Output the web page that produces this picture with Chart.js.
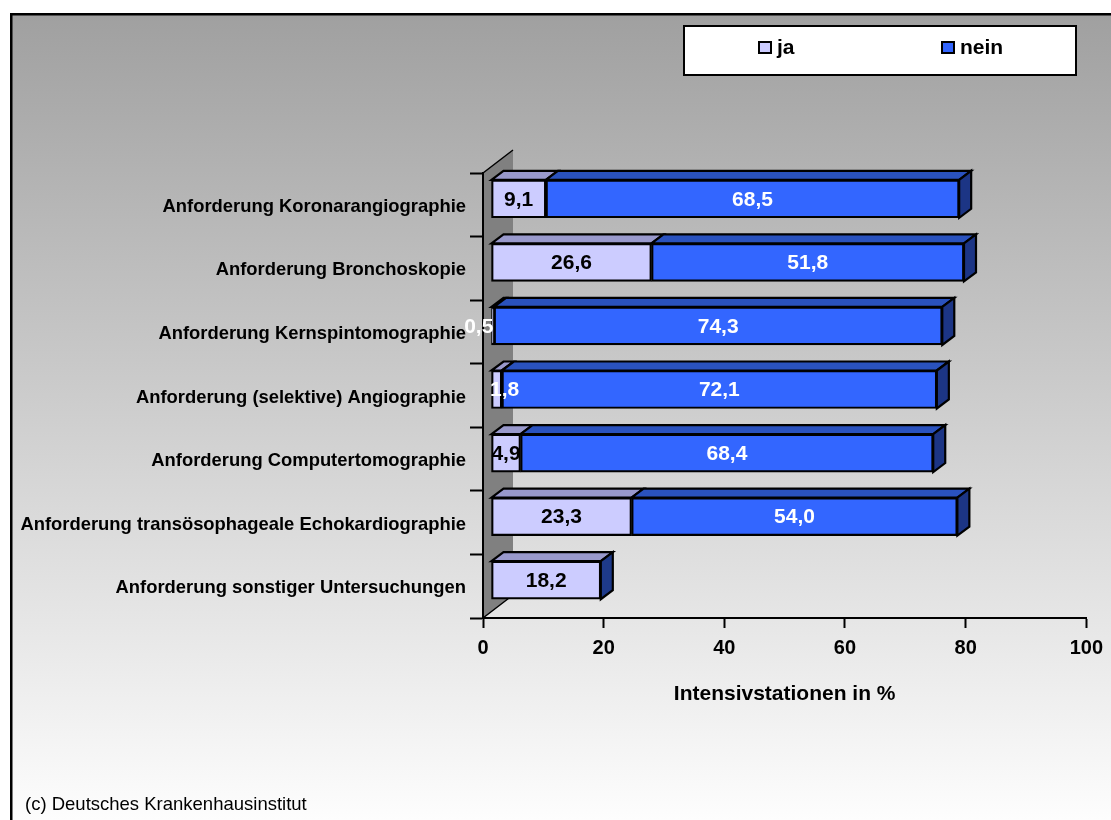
<!DOCTYPE html>
<html><head><meta charset="utf-8">
<script src="https://cdn.jsdelivr.net/npm/chart.js@4"></script>
<style>html,body{margin:0;padding:0;background:#fff}canvas{display:block}</style>
</head><body>
<canvas id="c" width="1111" height="820"></canvas>
<script>
// ---- data ----
const categories = [
  'Anforderung Koronarangiographie',
  'Anforderung Bronchoskopie',
  'Anforderung Kernspintomographie',
  'Anforderung (selektive) Angiographie',
  'Anforderung Computertomographie',
  'Anforderung transösophageale Echokardiographie',
  'Anforderung sonstiger Untersuchungen'
];
const jaValues   = [9.1, 26.6, 0.5, 1.8, 4.9, 23.3, 18.2];
const neinValues = [68.5, 51.8, 74.3, 72.1, 68.4, 54.0, null];
const seriesNames = ['ja', 'nein'];
const xTickValues = [0, 20, 40, 60, 80, 100];
const axisTitle = 'Intensivstationen in %';
const footerText = '(c) Deutsches Krankenhausinstitut';

// ---- styles ----
const FONT = '"Liberation Sans", Arial, Helvetica, sans-serif';
const jaLabelColors = ['#000', '#000', '#fff', '#fff', '#000', '#000', '#000'];
const jaLabelNudge = [0, 0, -14, 8, 0, 0, 0];
const seriesStyle = [
  {front: '#ccccff', top: '#9999cc', side: '#1e3a8a', label: null},
  {front: '#3366ff', top: '#2a52be', side: '#1c3585', label: '#fff'}
];
const SHIFT_X = 8, SHIFT_Y = 6;     // bar depth position
const BAR_DX = 12, BAR_DY = 9;      // bar depth
const WALL_DX = 30, WALL_DY = 23;   // wall depth

const fmt = v => v.toFixed(1).replace('.', ',');

const backgroundPlugin = {
  id: 'bgWall',
  beforeDraw(chart) {
    const ctx = chart.ctx, W = chart.width, H = chart.height;
    ctx.save();
    ctx.fillStyle = '#fff';
    ctx.fillRect(0, 0, W, H);
    const g = ctx.createLinearGradient(0, 14, 0, H);
    g.addColorStop(0, '#a0a0a0');
    g.addColorStop(1, '#fdfdfd');
    ctx.fillStyle = g;
    ctx.fillRect(11, 14, W, H);
    ctx.strokeStyle = '#000';
    ctx.lineWidth = 2.5;
    ctx.strokeRect(11.25, 14.25, W + 20, H + 20);
    // back wall
    const {left, top, bottom} = chart.chartArea;
    ctx.beginPath();
    ctx.moveTo(left, top);
    ctx.lineTo(left + WALL_DX, top - WALL_DY);
    ctx.lineTo(left + WALL_DX, bottom - WALL_DY);
    ctx.lineTo(left, bottom);
    ctx.closePath();
    ctx.fillStyle = '#808080';
    ctx.fill();
    ctx.beginPath();
    ctx.moveTo(left, top);
    ctx.lineTo(left + WALL_DX, top - WALL_DY);
    ctx.moveTo(left, bottom);
    ctx.lineTo(left + WALL_DX, bottom - WALL_DY);
    ctx.lineWidth = 1.5;
    ctx.strokeStyle = '#000';
    ctx.stroke();
    ctx.restore();
  }
};

const depthPlugin = {
  id: 'depth',
  beforeDatasetsDraw(chart) {
    chart.ctx.save();
    chart.ctx.translate(SHIFT_X, -SHIFT_Y);
  },
  afterDatasetsDraw(chart) {
    const ctx = chart.ctx;
    const metas = chart.data.datasets.map((d, i) => chart.getDatasetMeta(i));
    ctx.lineWidth = 2.2;
    ctx.strokeStyle = '#000';
    ctx.lineJoin = 'miter';
    categories.forEach((c, idx) => {
      let last = -1;
      chart.data.datasets.forEach((d, di) => { if (d.data[idx] != null && d.data[idx] > 0) last = di; });
      chart.data.datasets.forEach((d, di) => {
        const v = d.data[idx];
        if (v == null) return;
        const el = metas[di].data[idx];
        const p = el.getProps(['x', 'y', 'base', 'height'], true);
        const l = Math.min(p.x, p.base), r = Math.max(p.x, p.base);
        const t = p.y - p.height / 2, b = p.y + p.height / 2;
        ctx.beginPath();
        ctx.moveTo(l, t);
        ctx.lineTo(l + BAR_DX, t - BAR_DY);
        ctx.lineTo(r + BAR_DX, t - BAR_DY);
        ctx.lineTo(r, t);
        ctx.closePath();
        ctx.fillStyle = seriesStyle[di].top;
        ctx.fill();
        ctx.stroke();
        if (di === last) {
          ctx.beginPath();
          ctx.moveTo(r, t);
          ctx.lineTo(r + BAR_DX, t - BAR_DY);
          ctx.lineTo(r + BAR_DX, b - BAR_DY);
          ctx.lineTo(r, b);
          ctx.closePath();
          ctx.fillStyle = seriesStyle[di].side;
          ctx.fill();
          ctx.stroke();
        }
      });
    });
    // value labels
    ctx.font = 'bold 21px ' + FONT;
    ctx.textAlign = 'center';
    ctx.textBaseline = 'middle';
    chart.data.datasets.forEach((d, di) => {
      d.data.forEach((v, idx) => {
        if (v == null) return;
        const p = metas[di].data[idx].getProps(['x', 'y', 'base'], true);
        ctx.fillStyle = di === 0 ? jaLabelColors[idx] : seriesStyle[di].label;
        const nudge = di === 0 ? jaLabelNudge[idx] : 0;
        ctx.fillText(fmt(v), (p.x + p.base) / 2 + nudge, p.y + 1);
      });
    });
    ctx.restore();
  }
};

const overlayPlugin = {
  id: 'overlay',
  afterDraw(chart) {
    const ctx = chart.ctx;
    ctx.save();
    // legend box
    ctx.fillStyle = '#fff';
    ctx.fillRect(683, 25, 394, 51);
    ctx.lineWidth = 2;
    ctx.strokeStyle = '#000';
    ctx.strokeRect(684, 26, 392, 49);
    const pos = [{mx: 759, tx: 777}, {mx: 942, tx: 960}];
    ctx.font = 'bold 21px ' + FONT;
    ctx.textBaseline = 'middle';
    ctx.textAlign = 'left';
    chart.data.datasets.forEach((d, i) => {
      ctx.fillStyle = d.backgroundColor;
      ctx.fillRect(pos[i].mx, 42, 12, 11);
      ctx.strokeRect(pos[i].mx, 42, 12, 11);
      ctx.fillStyle = '#000';
      ctx.fillText(d.label, pos[i].tx, 48);
    });
    // footer
    ctx.font = '18.5px ' + FONT;
    ctx.fillStyle = '#000';
    ctx.fillText(footerText, 25, 805);
    ctx.restore();
  }
};

new Chart(document.getElementById('c'), {
  type: 'bar',
  data: {
    labels: categories,
    datasets: [
      {label: seriesNames[0], data: jaValues, backgroundColor: seriesStyle[0].front,
       borderColor: '#000', borderWidth: 2.2, borderSkipped: false, clip: false},
      {label: seriesNames[1], data: neinValues, backgroundColor: seriesStyle[1].front,
       borderColor: '#000', borderWidth: 2.2, borderSkipped: false, clip: false}
    ]
  },
  options: {
    indexAxis: 'y',
    responsive: false,
    animation: false,
    devicePixelRatio: 1,
    barThickness: 38,
    layout: {padding: {left: 0, top: 173, right: 24, bottom: 102}},
    plugins: {legend: {display: false}, tooltip: {enabled: false}, title: {display: false}},
    scales: {
      x: {
        stacked: true, min: 0, max: 100,
        afterBuildTicks: s => { s.ticks = xTickValues.map(v => ({value: v})); },
        afterFit: s => { s.height = 100; },
        grid: {drawOnChartArea: false, drawTicks: true, tickLength: 10, tickColor: '#000', tickWidth: 2},
        border: {display: true, color: '#000', width: 2},
        ticks: {color: '#000', padding: 8, font: {family: FONT, size: 20, weight: 'bold'}},
        title: {display: true, text: axisTitle, color: '#000',
                font: {family: FONT, size: 21, weight: 'bold'}, padding: {top: 0, bottom: 11}}
      },
      y: {
        stacked: true,
        afterFit: s => { s.width = 483; },
        grid: {drawOnChartArea: false, drawTicks: true, offset: true, tickLength: 13, tickColor: '#000', tickWidth: 2},
        border: {display: true, color: '#000', width: 2},
        ticks: {color: '#000', padding: 4, labelOffset: 2, font: {family: FONT, size: 18.4, weight: 'bold'}}
      }
    }
  },
  plugins: [backgroundPlugin, depthPlugin, overlayPlugin]
});
</script>
</body></html>
